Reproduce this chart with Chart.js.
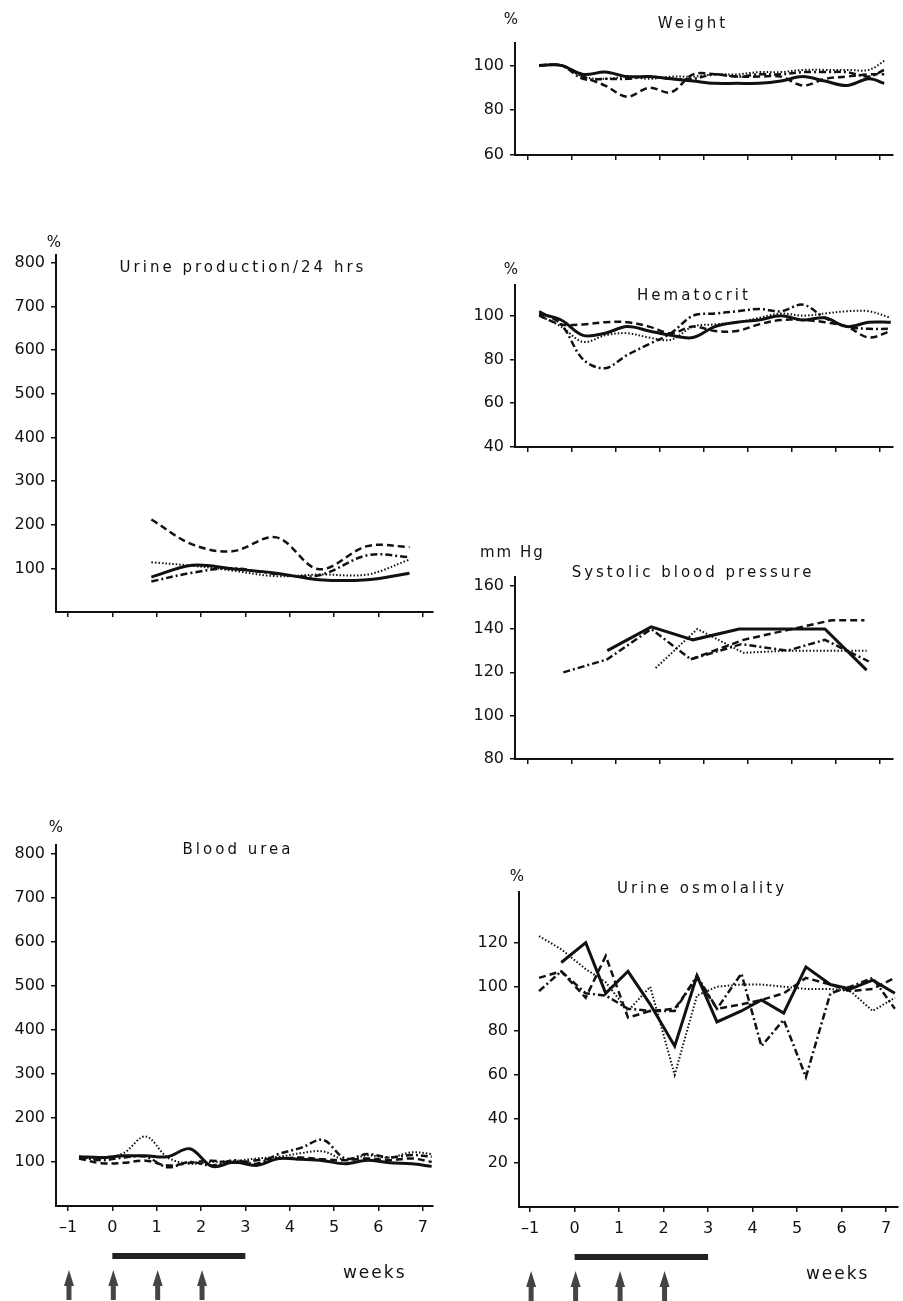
<!DOCTYPE html>
<html>
<head>
<meta charset="utf-8">
<script src="https://cdn.jsdelivr.net/npm/chart.js@4.4.1/dist/chart.umd.min.js"></script>
<style>
  body { margin: 0; background: #fff; }
  #page { position: relative; width: 903px; height: 1301px; overflow: hidden; background: #fff; }
  canvas { position: absolute; }
</style>
</head>
<body>
<div id="page">
  <canvas id="weight" width="433" height="175" style="left:470px;top:0px"></canvas>
  <canvas id="hematocrit" width="433" height="230" style="left:470px;top:240px"></canvas>
  <canvas id="pressure" width="433" height="250" style="left:470px;top:530px"></canvas>
  <canvas id="osmolality" width="429" height="451" style="left:474px;top:850px"></canvas>
  <canvas id="urine" width="460" height="410" style="left:0px;top:225px"></canvas>
  <canvas id="urea" width="460" height="491" style="left:0px;top:810px"></canvas>
</div>
<script>
// weeks on the x axis, and the treatment marks under the bottom panels
const weekTicks = [-1, 0, 1, 2, 3, 4, 5, 6, 7];
const treatmentBar = [0, 3];
const injectionWeeks = [-1, 0, 1, 2];

// Weight (%)
const weightTicks = [60, 80, 100];
const weightWeeks = [-0.75, -0.25, 0.25, 0.75, 1.25, 1.75, 2.25, 2.75, 3.25, 3.75, 4.25, 4.75, 5.25, 5.75, 6.25, 6.75, 7.1];
const weightSolid = [100, 100, 96, 97, 95, 95, 94, 93, 92, 92, 92, 93, 95, 93, 91, 94, 92];
const weightDashed = [100, 100, 95, 91, 86, 90, 88, 96, 96, 95, 95, 95, 91, 94, 95, 96, 96];
const weightDotted = [100, 100, 95, 94, 95, 94, 95, 95, 96, 96, 97, 97, 98, 98, 98, 98, 102];
const weightDashDot = [100, 100, 94, 94, 94, 95, 94, 94, 96, 95, 96, 96, 97, 97, 97, 95, 98];

// Hematocrit (%)
const hemaTicks = [40, 60, 80, 100];
const hemaWeeks = [-0.75, -0.25, 0.25, 0.75, 1.25, 1.75, 2.25, 2.75, 3.25, 3.75, 4.25, 4.75, 5.25, 5.75, 6.25, 6.75, 7.25];
const hemaSolid = [101, 98, 91, 92, 95, 93, 91, 90, 95, 97, 98, 100, 98, 99, 95, 97, 97];
const hemaDashed = [100, 96, 96, 97, 97, 95, 92, 95, 93, 93, 96, 98, 98, 97, 95, 90, 93];
const hemaDotted = [100, 95, 88, 91, 92, 90, 89, 95, 96, 97, 99, 101, 100, 101, 102, 102, 99];
const hemaDashDot = [102, 96, 80, 76, 82, 87, 92, 100, 101, 102, 103, 102, 105, 99, 95, 94, 94];

// Systolic blood pressure (mm Hg)
const bpTicks = [80, 100, 120, 140, 160];
const bpSolidWeeks = [0.8, 1.8, 2.75, 3.8, 5.75, 6.7];
const bpSolid = [130, 141, 135, 140, 140, 121];
const bpDashedWeeks = [2.7, 3.9, 5.0, 5.9, 6.65];
const bpDashed = [126, 135, 140, 144, 144];
const bpDottedWeeks = [1.9, 2.85, 3.9, 4.9, 5.9, 6.7];
const bpDotted = [122, 140, 129, 130, 130, 130];
const bpDashDotWeeks = [-0.2, 0.8, 1.8, 2.7, 3.85, 4.9, 5.75, 6.75];
const bpDashDot = [120, 126, 140, 126, 133, 130, 135, 125];

// Urine osmolality (%)
const osmoTicks = [20, 40, 60, 80, 100, 120];
const osmoWeeks = [-0.8, -0.3, 0.25, 0.7, 1.2, 1.7, 2.25, 2.75, 3.2, 3.75, 4.2, 4.7, 5.2, 5.75, 6.2, 6.7, 7.2];
const osmoSolid = [null, 111, 120, 97, 107, 92, 73, 105, 84, 89, 94, 88, 109, 101, 99, 103, 97];
const osmoDashed = [104, 107, 95, 114, 86, 89, 90, 104, 90, 92, 94, 97, 104, 101, 98, 99, 104];
const osmoDotted = [123, 117, 108, 102, 89, 100, 60, 96, 100, 101, 101, 100, 99, 99, 98, 89, 95];
const osmoDashDot = [98, 107, 97, 96, 90, 89, 89, 105, 90, 106, 73, 85, 59, 97, 100, 104, 90];

// Urine production/24 hrs (%)
const urineTicks = [100, 200, 300, 400, 500, 600, 700, 800];
const urineWeeks = [0.88, 1.8, 2.7, 3.7, 4.66, 5.75, 6.7];
const urineSolid = [80, 107, 99, 89, 74, 74, 89];
const urineDashed = [212, 155, 139, 171, 98, 151, 149];
const urineDotted = [114, 106, 95, 82, 86, 86, 120];
const urineDashDot = [70, 90, 100, 87, 84, 130, 126];

// Blood urea (%)
const ureaTicks = [100, 200, 300, 400, 500, 600, 700, 800];
const ureaWeeks = [-0.75, -0.25, 0.25, 0.75, 1.25, 1.75, 2.25, 2.75, 3.25, 3.75, 4.25, 4.75, 5.25, 5.75, 6.25, 6.75, 7.2];
const ureaSolid = [112, 110, 114, 114, 112, 130, 90, 100, 92, 108, 106, 103, 96, 104, 98, 96, 90];
const ureaDashed = [108, 97, 98, 103, 92, 98, 103, 98, 104, 108, 110, 106, 104, 108, 104, 108, 100];
const ureaDotted = [110, 108, 120, 158, 110, 96, 100, 102, 108, 112, 120, 124, 105, 115, 110, 122, 118];
const ureaDashDot = [112, 104, 110, 112, 88, 100, 92, 104, 96, 118, 132, 150, 108, 118, 110, 116, 112];

const ink = "#111";
const fontFamily = "'DejaVu Sans', sans-serif";

const lineStyles = {
  solid: { width: 3, dash: [] },
  dashed: { width: 2.5, dash: [7, 4] },
  dotted: { width: 2, dash: [1.5, 2] },
  dashdot: { width: 2.5, dash: [7, 3, 2, 3] },
};

function drawArrow(ctx, x, top, bottom) {
  ctx.save();
  ctx.fillStyle = "#444";
  ctx.beginPath();
  ctx.moveTo(x, top);
  ctx.lineTo(x + 5, top + 16);
  ctx.lineTo(x + 2.5, top + 16);
  ctx.lineTo(x + 2.5, bottom);
  ctx.lineTo(x - 2.5, bottom);
  ctx.lineTo(x - 2.5, top + 16);
  ctx.lineTo(x - 5, top + 16);
  ctx.closePath();
  ctx.fill();
  ctx.restore();
}

const panelText = {
  id: "panelText",
  afterDraw(chart, args, opts) {
    const { ctx, chartArea } = chart;
    ctx.save();
    ctx.fillStyle = ink;
    ctx.textBaseline = "middle";
    if (opts.title) {
      ctx.font = "15px " + fontFamily;
      ctx.letterSpacing = "3px";
      ctx.textAlign = "center";
      ctx.fillText(opts.title.text, opts.title.x, opts.title.y);
    }
    if (opts.unit) {
      ctx.font = "15px " + fontFamily;
      ctx.letterSpacing = "2px";
      ctx.textAlign = opts.unit.align || "center";
      ctx.fillText(opts.unit.text, opts.unit.x, opts.unit.y);
    }
    if (opts.footer) {
      const xs = chart.scales.x;
      const base = chartArea.bottom;
      ctx.fillStyle = "#222";
      const x0 = xs.getPixelForValue(treatmentBar[0]);
      const x1 = xs.getPixelForValue(treatmentBar[1]);
      ctx.fillRect(x0, base + 47, x1 - x0, 6);
      for (const w of injectionWeeks) {
        drawArrow(ctx, xs.getPixelForValue(w) + 1, base + 64, base + 94);
      }
      ctx.fillStyle = ink;
      ctx.font = "17px " + fontFamily;
      ctx.letterSpacing = "2px";
      ctx.textAlign = "left";
      ctx.fillText("weeks", xs.getPixelForValue(5.2), base + 68);
    }
    ctx.restore();
  },
};

function series(x, y, style) {
  return { x, y, style };
}

function makePanel(canvasId, p) {
  return new Chart(document.getElementById(canvasId), {
    type: "line",
    data: {
      datasets: p.series.map((s) => ({
        data: s.x.map((w, i) => ({ x: w, y: s.y[i] })),
        borderColor: ink,
        borderWidth: lineStyles[s.style].width,
        borderDash: lineStyles[s.style].dash,
        borderCapStyle: "butt",
        pointRadius: 0,
        tension: p.tension,
        fill: false,
        spanGaps: false,
      })),
    },
    options: {
      responsive: false,
      animation: false,
      layout: { padding: { top: p.padTop, right: p.padRight, left: 0, bottom: 0 } },
      plugins: {
        legend: { display: false },
        tooltip: { enabled: false },
        panelText: p.text,
      },
      scales: {
        x: {
          type: "linear",
          min: p.xMin,
          max: p.xMax,
          afterBuildTicks: (s) => {
            s.ticks = weekTicks.map((v) => ({ value: v }));
          },
          afterFit: (s) => {
            s.height = p.xAxisHeight;
          },
          grid: { drawOnChartArea: false, color: ink, lineWidth: 1.5, tickLength: 5 },
          border: { color: ink, width: 2 },
          ticks: {
            autoSkip: false,
            maxRotation: 0,
            padding: 7,
            color: ink,
            font: { family: fontFamily, size: 16 },
            callback: (v) => (p.text.footer ? String(v).replace("-", "\u2013") : ""),
          },
        },
        y: {
          min: p.yMin,
          max: p.yMax,
          afterBuildTicks: (s) => {
            s.ticks = p.yTicks.map((v) => ({ value: v }));
          },
          afterFit: (s) => {
            s.width = p.yAxisWidth;
          },
          grid: { drawOnChartArea: false, color: ink, lineWidth: 1.5, tickLength: 5 },
          border: { color: ink, width: 2 },
          ticks: {
            padding: 6,
            color: ink,
            font: { family: fontFamily, size: 16 },
          },
        },
      },
    },
    plugins: [panelText],
  });
}

makePanel("weight", {
  xMin: -1.3, xMax: 7.3, yMin: 60, yMax: 110, yTicks: weightTicks,
  padTop: 43, padRight: 10, xAxisHeight: 20, yAxisWidth: 45, tension: 0.35,
  text: { title: { text: "Weight", x: 223, y: 24 }, unit: { text: "%", x: 42, y: 20 } },
  series: [
    series(weightWeeks, weightDotted, "dotted"),
    series(weightWeeks, weightDashDot, "dashdot"),
    series(weightWeeks, weightDashed, "dashed"),
    series(weightWeeks, weightSolid, "solid"),
  ],
});

makePanel("hematocrit", {
  xMin: -1.3, xMax: 7.3, yMin: 40, yMax: 114, yTicks: hemaTicks,
  padTop: 45, padRight: 10, xAxisHeight: 23, yAxisWidth: 45, tension: 0.35,
  text: { title: { text: "Hematocrit", x: 224, y: 56 }, unit: { text: "%", x: 42, y: 30 } },
  series: [
    series(hemaWeeks, hemaDotted, "dotted"),
    series(hemaWeeks, hemaDashDot, "dashdot"),
    series(hemaWeeks, hemaDashed, "dashed"),
    series(hemaWeeks, hemaSolid, "solid"),
  ],
});

makePanel("pressure", {
  xMin: -1.3, xMax: 7.3, yMin: 80, yMax: 164, yTicks: bpTicks,
  padTop: 47, padRight: 10, xAxisHeight: 21, yAxisWidth: 45, tension: 0,
  text: {
    title: { text: "Systolic blood pressure", x: 223, y: 43 },
    unit: { text: "mm Hg", x: 10, y: 23, align: "left" },
  },
  series: [
    series(bpDottedWeeks, bpDotted, "dotted"),
    series(bpDashDotWeeks, bpDashDot, "dashdot"),
    series(bpDashedWeeks, bpDashed, "dashed"),
    series(bpSolidWeeks, bpSolid, "solid"),
  ],
});

makePanel("osmolality", {
  xMin: -1.25, xMax: 7.27, yMin: 0, yMax: 143, yTicks: osmoTicks,
  padTop: 42, padRight: 5, xAxisHeight: 94, yAxisWidth: 45, tension: 0,
  text: {
    title: { text: "Urine osmolality", x: 228, y: 39 },
    unit: { text: "%", x: 44, y: 27 },
    footer: true,
  },
  series: [
    series(osmoWeeks, osmoDotted, "dotted"),
    series(osmoWeeks, osmoDashDot, "dashdot"),
    series(osmoWeeks, osmoDashed, "dashed"),
    series(osmoWeeks, osmoSolid, "solid"),
  ],
});

makePanel("urine", {
  xMin: -1.27, xMax: 7.23, yMin: 0, yMax: 818, yTicks: urineTicks,
  padTop: 30, padRight: 27, xAxisHeight: 23, yAxisWidth: 56, tension: 0.35,
  text: {
    title: { text: "Urine production/24 hrs", x: 243, y: 43 },
    unit: { text: "%", x: 55, y: 18 },
  },
  series: [
    series(urineWeeks, urineDotted, "dotted"),
    series(urineWeeks, urineDashDot, "dashdot"),
    series(urineWeeks, urineDashed, "dashed"),
    series(urineWeeks, urineSolid, "solid"),
  ],
});

makePanel("urea", {
  xMin: -1.27, xMax: 7.23, yMin: 0, yMax: 820, yTicks: ureaTicks,
  padTop: 35, padRight: 27, xAxisHeight: 95, yAxisWidth: 56, tension: 0.35,
  text: {
    title: { text: "Blood urea", x: 238, y: 40 },
    unit: { text: "%", x: 57, y: 18 },
    footer: true,
  },
  series: [
    series(ureaWeeks, ureaDotted, "dotted"),
    series(ureaWeeks, ureaDashDot, "dashdot"),
    series(ureaWeeks, ureaDashed, "dashed"),
    series(ureaWeeks, ureaSolid, "solid"),
  ],
});
</script>
</body>
</html>
